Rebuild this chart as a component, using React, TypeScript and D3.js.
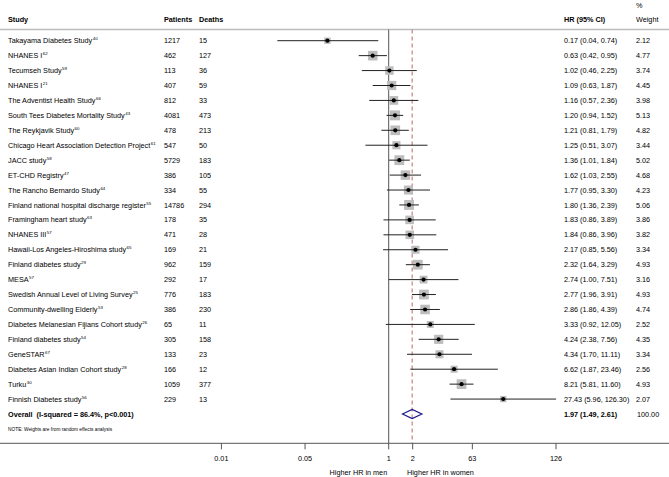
import React from "react";
import * as d3 from "d3";

const studies = [
  "Takayama Diabetes Study", "NHANES I", "Tecumseh Study", "NHANES I", "The Adventist Health Study",
  "South Tees Diabetes Mortality Study", "The Reykjavik Study", "Chicago Heart Association Detection Project",
  "JACC study", "ET-CHD Registry", "The Rancho Bernardo Study", "Finland national hospital discharge register",
  "Framingham heart study", "NHANES III", "Hawaii-Los Angeles-Hiroshima study", "Finland diabetes study",
  "MESA", "Swedish Annual Level of Living Survey", "Community-dwelling Elderly",
  "Diabetes Melanesian Fijians Cohort study", "Finland diabetes study", "GeneSTAR",
  "Diabetes Asian Indian Cohort study", "Turku", "Finnish Diabetes study",
];
const refs = ["40", "62", "59", "21", "66", "43", "60", "61", "58", "47", "64", "55", "63", "57", "65", "29", "57", "25", "53", "26", "54", "67", "28", "30", "56"];
const patients = [1217, 462, 113, 407, 812, 4081, 478, 547, 5729, 386, 334, 14786, 178, 471, 169, 962, 292, 776, 386, 65, 305, 133, 166, 1059, 229];
const deaths = [15, 127, 36, 59, 33, 473, 213, 50, 183, 105, 55, 294, 35, 28, 21, 159, 17, 183, 230, 11, 158, 23, 12, 377, 13];
const hr = [0.17, 0.63, 1.02, 1.09, 1.16, 1.20, 1.21, 1.25, 1.36, 1.62, 1.77, 1.80, 1.83, 1.84, 2.17, 2.32, 2.74, 2.77, 2.86, 3.33, 4.24, 4.34, 6.62, 8.21, 27.43];
const lo = [0.04, 0.42, 0.46, 0.63, 0.57, 0.94, 0.81, 0.51, 1.01, 1.03, 0.95, 1.36, 0.86, 0.86, 0.85, 1.64, 1.00, 1.96, 1.86, 0.92, 2.38, 1.70, 1.87, 5.81, 5.96];
const hi = [0.74, 0.95, 2.25, 1.87, 2.36, 1.52, 1.79, 3.07, 1.84, 2.55, 3.30, 2.39, 3.89, 3.96, 5.56, 3.29, 7.51, 3.91, 4.39, 12.05, 7.56, 11.11, 23.46, 11.60, 126.30];
const weights = [2.12, 4.77, 3.74, 4.45, 3.98, 5.13, 4.82, 3.44, 5.02, 4.68, 4.23, 5.06, 3.86, 3.82, 3.34, 4.93, 3.16, 4.93, 4.74, 2.52, 4.35, 3.34, 2.56, 4.93, 2.07];
const overall = { hr: 1.97, lo: 1.49, hi: 2.61, label: "Overall  (I-squared = 86.4%, p<0.001)", weight: "100.00" };
const tickValues = [1 / 126, 1 / Math.sqrt(126), 1, 2, Math.sqrt(126), 126];
const tickLabels = ["0.01", "0.05", "1", "2", "63", "126"];

const W = 669;
const H = 477;
const FONT = "'Liberation Sans', Arial, sans-serif";
const FS = 7.25;

export default function App() {
  const x = d3.scaleLog().domain([1 / 126, 126]).range([221.4, 556]);
  const rows = d3.range(studies.length + 1);
  const y = d3.scalePoint<number>().domain(rows).range([40.7, 414]);
  const side = d3.scaleSqrt().domain([0, 5]).range([0, 9.8]);
  const fmt = d3.format(".2f");
  const yTop = 29.5;
  const yAxis = 443.3;
  const base = 2.6;
  const dPath = (() => {
    const cy = y(studies.length)!;
    return `M${x(overall.lo)},${cy} L${x(overall.hr)},${cy - 4.5} L${x(overall.hi)},${cy} L${x(overall.hr)},${cy + 4.5} Z`;
  })();

  return (
    <svg width={W} height={H} style={{ position: "absolute", left: 0, top: 0, background: "#fff" }}
      fontFamily={FONT} fontSize={FS} fill="#000">
      <rect x={0} y={0} width={W} height={H} fill="#fff" />
      {/* header */}
      <text x={636} y={5 + base}>%</text>
      <text x={8} y={19 + base} fontWeight="bold">Study</text>
      <text x={164} y={19 + base} fontWeight="bold">Patients</text>
      <text x={199} y={19 + base} fontWeight="bold">Deaths</text>
      <text x={564} y={19 + base} fontWeight="bold">HR (95% CI)</text>
      <text x={636} y={19 + base}>Weight</text>
      <line x1={0} x2={W} y1={yTop} y2={yTop} stroke="#bdbdbd" strokeWidth={1.5} />

      {/* reference lines */}
      <line x1={x(1)} x2={x(1)} y1={yTop} y2={yAxis} stroke="#555" strokeWidth={1} />
      <line x1={x(overall.hr)} x2={x(overall.hr)} y1={yTop} y2={yAxis} stroke="#c0666a" strokeWidth={1} strokeDasharray="4,3" />

      {studies.map((s, i) => {
        const cy = y(i)!;
        const sz = side(weights[i]);
        return (
          <g key={i}>
            <text x={8} y={cy + base}>
              {s}
              <tspan fontSize={4.4} dy={-3} dx={0.5}>{refs[i]}</tspan>
            </text>
            <text x={164} y={cy + base}>{patients[i]}</text>
            <text x={199} y={cy + base}>{deaths[i]}</text>
            <rect x={x(hr[i]) - sz / 2} y={cy - sz / 2} width={sz} height={sz} fill="#bdbdbd" />
            <line x1={x(lo[i])} x2={x(hi[i])} y1={cy} y2={cy} stroke="#222" strokeWidth={1} />
            <circle cx={x(hr[i])} cy={cy} r={2.1} fill="#000" />
            <text x={564} y={cy + base}>{`${fmt(hr[i])} (${fmt(lo[i])}, ${fmt(hi[i])})`}</text>
            <text x={636} y={cy + base}>{fmt(weights[i])}</text>
          </g>
        );
      })}

      {/* overall */}
      <text x={8} y={y(studies.length)! + base} fontWeight="bold" style={{ whiteSpace: "pre" }}>{overall.label}</text>
      <path d={dPath} fill="none" stroke="#1a1a8c" strokeWidth={1.2} />
      <text x={564} y={y(studies.length)! + base} fontWeight="bold">{`${fmt(overall.hr)} (${fmt(overall.lo)}, ${fmt(overall.hi)})`}</text>
      <text x={637} y={y(studies.length)! + base}>{overall.weight}</text>

      <text x={8} y={431} fontSize={4.8}>NOTE: Weights are from random effects analysis</text>

      {/* axis */}
      <line x1={0} x2={W} y1={yAxis} y2={yAxis} stroke="#555" strokeWidth={1} />
      {tickValues.map((t, i) => (
        <g key={i}>
          <line x1={x(t)} x2={x(t)} y1={yAxis} y2={yAxis + 6} stroke="#555" strokeWidth={1} />
          <text x={x(t)} y={458 + base} textAnchor="middle">{tickLabels[i]}</text>
        </g>
      ))}
      <text x={x(1) - 1.5} y={472 + base} textAnchor="end">Higher HR in men</text>
      <text x={407} y={472 + base}>Higher HR in women</text>
    </svg>
  );
}
